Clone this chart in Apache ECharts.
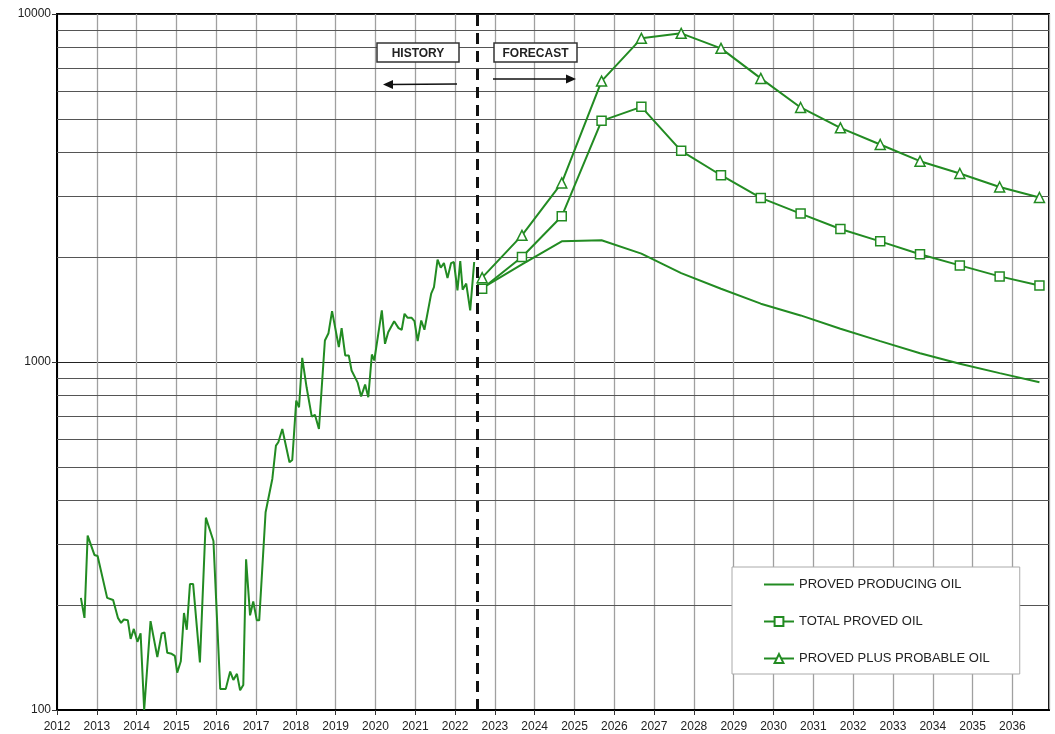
<!DOCTYPE html>
<html>
<head>
<meta charset="utf-8">
<script src="https://cdn.jsdelivr.net/npm/echarts@6/dist/echarts.min.js"></script>
<style>html,body{margin:0;padding:0;background:#fff}#c{width:1055px;height:734px}</style>
</head>
<body>
<div id="c"></div>
<script>
// ---- data ----
const histYears = [2012.60,2012.69,2012.77,2012.94,2013.02,2013.26,2013.41,2013.53,2013.61,2013.68,2013.78,2013.85,2013.93,2014.02,2014.10,2014.19,2014.35,2014.52,2014.63,2014.70,2014.77,2014.88,2014.96,2015.02,2015.11,2015.19,2015.26,2015.34,2015.42,2015.59,2015.74,2015.93,2016.10,2016.24,2016.35,2016.43,2016.52,2016.60,2016.68,2016.75,2016.85,2016.93,2017.02,2017.08,2017.24,2017.41,2017.50,2017.56,2017.66,2017.84,2017.91,2018.01,2018.08,2018.16,2018.27,2018.40,2018.48,2018.58,2018.73,2018.82,2018.91,2019.08,2019.15,2019.24,2019.33,2019.40,2019.55,2019.64,2019.74,2019.82,2019.91,2019.97,2020.16,2020.24,2020.32,2020.47,2020.58,2020.66,2020.73,2020.81,2020.91,2020.98,2021.06,2021.15,2021.23,2021.40,2021.47,2021.56,2021.64,2021.72,2021.81,2021.90,2021.97,2022.06,2022.13,2022.19,2022.28,2022.38,2022.48];
const histValues = [210,184,317,279,277,210,207,184,178,182,181,160,171,157,166,100,180,142,166,167,146,145,143,128,138,190,170,230,230,137,357,306,115,115,129,122,127,114,118,271,187,205,181,181,370,462,575,588,642,515,523,775,741,1028,846,697,705,642,1153,1210,1400,1103,1251,1044,1044,945,874,796,861,792,1051,1010,1407,1128,1218,1310,1251,1238,1376,1340,1340,1310,1148,1316,1238,1572,1642,1968,1866,1924,1742,1924,1938,1606,1950,1614,1680,1407,1938];
const fcYears = [2022.68,2023.68,2024.68,2025.68,2026.68,2027.68,2028.68,2029.68,2030.68,2031.68,2032.68,2033.68,2034.68,2035.68,2036.68];
const pdpValues = [1630,1908,2222,2237,2048,1801,1624,1471,1361,1246,1148,1060,988,929,875];
const tpoValues = [1624,2003,2622,4932,5411,4043,3441,2961,2670,2411,2222,2039,1895,1762,1660];
const pppValues = [1747,2312,3270,6414,8511,8800,7968,6530,5388,4709,4217,3776,3480,3184,2969];
const minorGridValues = [200,300,400,500,600,700,800,900,2000,3000,4000,5000,6000,7000,8000,9000];
const forecastStart = 2022.55;
const seriesNames = ['PROVED PRODUCING OIL','TOTAL PROVED OIL','PROVED PLUS PROBABLE OIL'];

const GREEN = '#228b22';
const FONT = 'Liberation Sans, Arial, sans-serif';
const pair = (xs, ys) => xs.map((x, i) => [x, ys[i]]);

const chart = echarts.init(document.getElementById('c'), null, {renderer: 'canvas'});
chart.setOption({
  animation: false,
  backgroundColor: '#fff',
  grid: {left: 57, right: 6, top: 14, bottom: 24, show: true, borderColor: '#000', borderWidth: 2, containLabel: false},
  xAxis: {
    type: 'value', min: 2012, max: 2036.92, interval: 1,
    axisLine: {show: true, onZero: false, lineStyle: {color: '#000', width: 2}},
    axisTick: {show: true, length: 5, lineStyle: {color: '#333'}},
    axisLabel: {color: '#222', fontSize: 12, fontFamily: FONT, margin: 11,
      formatter: v => (Math.abs(v - Math.round(v)) < 1e-6 && v < 2036.5) ? String(Math.round(v)) : '', showMaxLabel: false},
    splitLine: {show: true, lineStyle: {color: '#a0a0a0', width: 1.3}}
  },
  yAxis: {
    type: 'log', logBase: 10, min: 100, max: 10000,
    axisLine: {show: true, lineStyle: {color: '#000', width: 2}},
    axisTick: {show: true, length: 5, lineStyle: {color: '#333'}},
    axisLabel: {color: '#222', fontSize: 12, fontFamily: FONT, margin: 6, formatter: v => String(Math.round(v))},
    splitLine: {show: true, lineStyle: {color: '#222', width: 1}}
  },
  legend: {
    data: [
      {name: seriesNames[0], itemStyle: {opacity: 0}},
      {name: seriesNames[1]},
      {name: seriesNames[2]}
    ],
    orient: 'vertical', left: 732, top: 567,
    itemWidth: 30, itemHeight: 11, itemGap: 24,
    padding: [11, 30, 9, 31],
    backgroundColor: '#fff', borderColor: '#aaa', borderWidth: 1,
    textStyle: {color: '#222', fontSize: 13, fontFamily: FONT},
    selectedMode: false
  },
  graphic: [
    {type: 'rect', shape: {x: 377, y: 43, width: 82, height: 19}, style: {fill: '#fff', stroke: '#333', lineWidth: 1.5}, z: 100},
    {type: 'text', x: 418, y: 53.5, style: {text: 'HISTORY', font: 'bold 12px ' + FONT, fill: '#222', textAlign: 'center', textVerticalAlign: 'middle'}, z: 101},
    {type: 'rect', shape: {x: 494, y: 43, width: 83, height: 19}, style: {fill: '#fff', stroke: '#333', lineWidth: 1.5}, z: 100},
    {type: 'text', x: 535.5, y: 53.5, style: {text: 'FORECAST', font: 'bold 12px ' + FONT, fill: '#222', textAlign: 'center', textVerticalAlign: 'middle'}, z: 101},
    {type: 'line', shape: {x1: 457, y1: 84, x2: 390, y2: 84.5}, style: {stroke: '#111', lineWidth: 1.5}, z: 100},
    {type: 'polygon', shape: {points: [[383, 84.5], [393, 80], [393, 89]]}, style: {fill: '#111'}, z: 100},
    {type: 'line', shape: {x1: 493, y1: 79, x2: 567, y2: 79}, style: {stroke: '#111', lineWidth: 1.5}, z: 100},
    {type: 'polygon', shape: {points: [[576, 79], [566, 74.5], [566, 83.5]]}, style: {fill: '#111'}, z: 100}
  ],
  series: [
    {
      name: seriesNames[0], type: 'line', data: pair(fcYears, pdpValues),
      symbol: 'none', color: GREEN, lineStyle: {color: GREEN, width: 2}, z: 3
    },
    {
      name: seriesNames[1], type: 'line', data: pair(fcYears, tpoValues),
      symbol: 'rect', symbolSize: 9, color: GREEN,
      itemStyle: {color: '#fff', borderColor: GREEN, borderWidth: 1.5},
      lineStyle: {color: GREEN, width: 2}, z: 3
    },
    {
      name: seriesNames[2], type: 'line', data: pair(fcYears, pppValues),
      symbol: 'triangle', symbolSize: 10, color: GREEN,
      itemStyle: {color: '#fff', borderColor: GREEN, borderWidth: 1.5},
      lineStyle: {color: GREEN, width: 2}, z: 3
    },
    {
      name: seriesNames[0], type: 'line', data: pair(histYears, histValues),
      symbol: 'none', color: GREEN, lineStyle: {color: GREEN, width: 2}, z: 3,
      markLine: {
        silent: true, symbol: ['none', 'none'], label: {show: false}, animation: false, z: 1,
        data: minorGridValues.map(v => ({yAxis: v, lineStyle: {color: '#555', width: 1, type: 'solid'}}))
      }
    },
    {
      name: 'divider', type: 'line', data: [],
      markLine: {
        silent: true, symbol: ['none', 'none'], label: {show: false}, animation: false, z: 4,
        data: [{xAxis: forecastStart, lineStyle: {color: '#111', width: 3, type: [11, 7]}}]
      }
    }
  ]
});
</script>
</body>
</html>
